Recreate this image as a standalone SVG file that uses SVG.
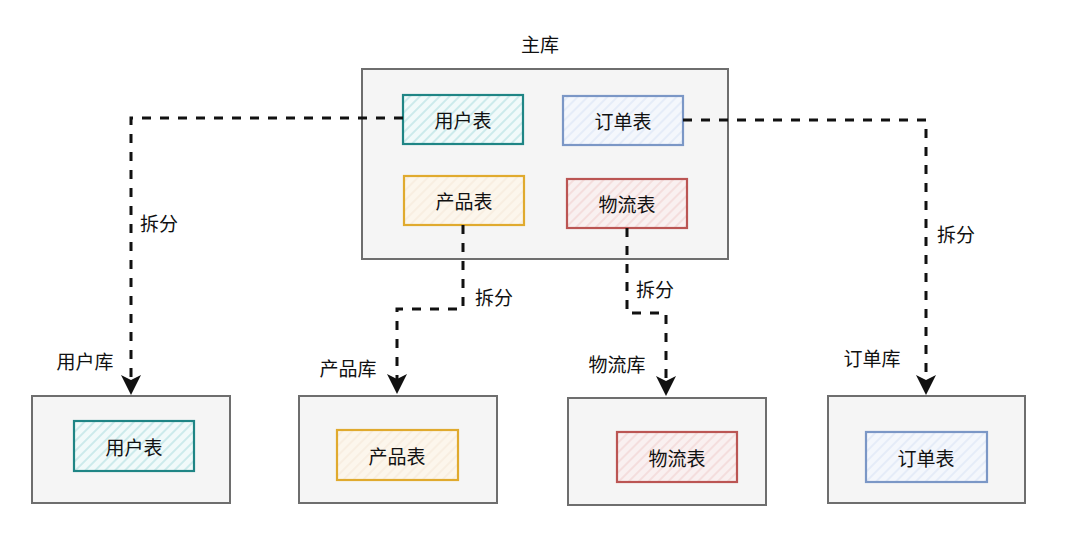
<svg xmlns="http://www.w3.org/2000/svg" width="1080" height="555" viewBox="0 0 1080 555">
<style>
text{font-family:"Noto Sans CJK SC","Noto Sans",sans-serif;font-size:19px;fill:#111;text-anchor:middle;dominant-baseline:central}
.db{fill:#f5f5f5;stroke:#6e6e6e;stroke-width:2}
.t{stroke-width:2.2}
.teal{fill:url(#hTeal);stroke:#1f8585}
.blue{fill:url(#hBlue);stroke:#7b97c6}
.yel{fill:url(#hYel);stroke:#e0aa2e}
.red{fill:url(#hRed);stroke:#bb5553}
.c{fill:none;stroke:#111;stroke-width:3;stroke-dasharray:9 9;marker-end:url(#arr)}
</style>
<defs>
<pattern id="hTeal" patternUnits="userSpaceOnUse" width="7" height="7" patternTransform="rotate(45)"><rect width="7" height="7" fill="#f1fafa"/><line x1="1" y1="0" x2="1" y2="7" stroke="#b9e2e3" stroke-width="1.3"/></pattern>
<pattern id="hBlue" patternUnits="userSpaceOnUse" width="7" height="7" patternTransform="rotate(45)"><rect width="7" height="7" fill="#f4f7fc"/><line x1="1" y1="0" x2="1" y2="7" stroke="#dde7f6" stroke-width="1.3"/></pattern>
<pattern id="hYel" patternUnits="userSpaceOnUse" width="7" height="7" patternTransform="rotate(45)"><rect width="7" height="7" fill="#fcf6ec"/><line x1="1" y1="0" x2="1" y2="7" stroke="#f7eadb" stroke-width="1.3"/></pattern>
<pattern id="hRed" patternUnits="userSpaceOnUse" width="7" height="7" patternTransform="rotate(45)"><rect width="7" height="7" fill="#f9f0f0"/><line x1="1" y1="0" x2="1" y2="7" stroke="#f2d4d3" stroke-width="1.3"/></pattern>
<marker id="arr" viewBox="0 0 20 22" refX="5" refY="11" markerWidth="20" markerHeight="22" markerUnits="userSpaceOnUse" orient="auto"><path d="M0,1 L20,11 L0,21 L5,11 Z" fill="#111"/></marker>
</defs>

<g id="main-db">
<rect class="db" x="362" y="69" width="366" height="190"/>
<text x="540" y="43">主库</text>
</g>
<g id="main-user"><rect class="t teal" x="403" y="95" width="120" height="49"/><text x="463" y="119">用户表</text></g>
<g id="main-order"><rect class="t blue" x="563" y="96" width="120" height="49"/><text x="623" y="120">订单表</text></g>
<g id="main-product"><rect class="t yel" x="404" y="176" width="120" height="49"/><text x="464" y="200">产品表</text></g>
<g id="main-logistics"><rect class="t red" x="567" y="179" width="120" height="49"/><text x="627" y="203">物流表</text></g>

<g id="user-db">
<rect class="db" x="32" y="396" width="198" height="107"/>
<text x="85" y="360">用户库</text>
<rect class="t teal" x="74" y="421" width="120" height="50"/><text x="134" y="446">用户表</text>
</g>
<g id="product-db">
<rect class="db" x="299" y="396" width="198" height="107"/>
<text x="348" y="367">产品库</text>
<rect class="t yel" x="337" y="430" width="121" height="50"/><text x="397" y="455">产品表</text>
</g>
<g id="logistics-db">
<rect class="db" x="568" y="398" width="198" height="107"/>
<text x="617" y="363">物流库</text>
<rect class="t red" x="617" y="432" width="120" height="50"/><text x="677" y="457">物流表</text>
</g>
<g id="order-db">
<rect class="db" x="828" y="396" width="197" height="107"/>
<text x="872" y="357">订单库</text>
<rect class="t blue" x="866" y="432" width="121" height="50"/><text x="926" y="457">订单表</text>
</g>

<g id="connectors">
<path class="c" d="M403,118 L131,118 L131,380"/>
<path class="c" d="M683,120 L926,120 L926,380"/>
<path class="c" d="M463,225 L463,309 L397,309 L397,379"/>
<path class="c" d="M627,228 L627,313 L666,313 L666,381"/>
<text x="159" y="222">拆分</text>
<text x="956" y="233">拆分</text>
<text x="494" y="296">拆分</text>
<text x="655" y="288">拆分</text>
</g>
</svg>
